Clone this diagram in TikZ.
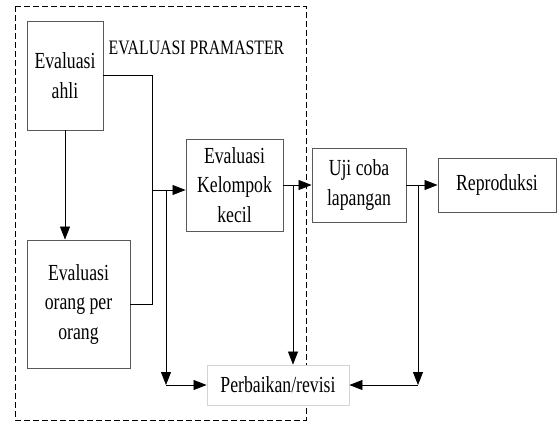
\documentclass[tikz,border=0pt]{standalone}
\usepackage{fontspec}
\setmainfont{Liberation Serif}[FakeStretch=0.77]
\usepackage{tikz}
\usetikzlibrary{arrows.meta}
\usetikzlibrary{positioning}
\definecolor{colorBox}{HTML}{595959}
\definecolor{colorRev}{HTML}{D4D4D4}
\def\colorBox{colorBox}
\def\colorRev{colorRev}

\begin{document}
\begin{tikzpicture}[x=1pt, y=-1pt,
  kotak/.style={draw=\colorBox, fill=white, line width=0.9pt, align=center, inner sep=0pt,
    font=\fontsize{23}{29.5}\selectfont},
  panah/.style={-{Triangle[length=13pt,width=10pt]}, line width=0.8pt}]

  \useasboundingbox (0,0) rectangle (557,421);

  % batas pramaster
  \draw[dash pattern=on 6pt off 3pt, line width=0.7pt] (15,6) rectangle (306,420);
  \node[font=\fontsize{20.5}{24}\selectfont] (judul) at (196.5,48) {EVALUASI PRAMASTER};

  % kotak
  \node[kotak, minimum width=76pt, minimum height=109pt] (ahli) at (65,75.5) {Evaluasi\\ahli};
  \node[kotak, minimum width=103pt, minimum height=128pt] (orang) at (78.5,304) {Evaluasi\\orang per\\orang};
  \node[kotak, minimum width=97pt, minimum height=92pt] (kelompok) at (234.5,185) {Evaluasi\\Kelompok\\kecil};
  \node[kotak, minimum width=94pt, minimum height=74pt] (uji) at (359,185) {Uji coba\\lapangan};
  \node[kotak, minimum width=118pt, minimum height=54pt] (repro) at (497,185) {Reproduksi};
  \node[kotak, draw=\colorRev, minimum width=142pt, minimum height=40pt] (revisi) at (278,385) {Perbaikan/revisi};

  % titik bantu
  \coordinate (gabung) at (152,190);
  \coordinate (cabang1) at (166,190);
  \coordinate (cabang2) at (293,185);
  \coordinate (cabang3) at (418,185);
  \coordinate (sudut1) at (cabang1 |- revisi.west);
  \coordinate (sudut3) at (cabang3 |- revisi.east);

  % panah
  \draw[panah] (ahli.south) -- (ahli.south |- orang.north);
  \draw[line width=0.8pt] (ahli.east) -| (gabung);
  \draw[line width=0.8pt] (orang.east) -| (gabung);
  \draw[panah] (gabung) -- (gabung -| kelompok.west);
  \draw[panah] (cabang1) -- (sudut1);
  \draw[panah] (sudut1) -- (revisi.west);
  \draw[panah] (kelompok.east) -- (uji.west);
  \draw[panah] (cabang2) -- (cabang2 |- revisi.north);
  \draw[panah] (uji.east) -- (repro.west);
  \draw[panah] (cabang3) -- (sudut3);
  \draw[panah] (sudut3) -- (revisi.east);

\end{tikzpicture}
\end{document}
